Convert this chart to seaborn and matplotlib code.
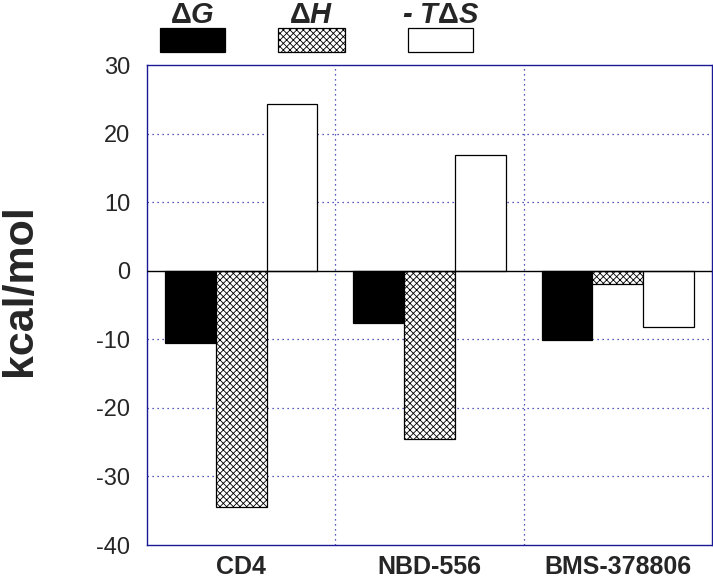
import matplotlib
matplotlib.use("Agg")
import matplotlib.pyplot as plt
import matplotlib.patches as mpatches
import seaborn as sns
import pandas as pd
import numpy as np

categories = ["CD4", "NBD-556", "BMS-378806"]
dG = [-10.5, -7.6, -10.1]
dH = [-34.5, -24.5, -2.0]
mTdS = [24.3, 16.9, -8.2]
series_names = ["dG", "dH", "mTdS"]
legend_labels = [r"$\mathbf{\Delta}\mathit{G}$", r"$\mathbf{\Delta}\mathit{H}$", r"- $\mathit{T}\mathbf{\Delta}\mathit{S}$"]
yticks = [-40, -30, -20, -10, 0, 10, 20, 30]

rows = []
for s, vals in zip(series_names, [dG, dH, mTdS]):
    for c, v in zip(categories, vals):
        rows.append({"cat": c, "series": s, "value": v})
df = pd.DataFrame(rows)

sns.set_style("white")
plt.rcParams['font.family'] = ['Liberation Sans', 'DejaVu Sans']
plt.rcParams['hatch.linewidth'] = 0.6
plt.rcParams['mathtext.fontset'] = 'custom'
plt.rcParams['mathtext.rm'] = 'Liberation Sans:bold'
plt.rcParams['mathtext.it'] = 'Liberation Sans:italic:bold'
plt.rcParams['mathtext.bf'] = 'Liberation Sans:bold'

fig = plt.figure(figsize=(7.13, 5.79), dpi=100)
ax = fig.add_axes([147/713, 1-545/579, (712-147)/713, (545-65)/579])

sns.barplot(data=df, x="cat", y="value", hue="series", order=categories,
            hue_order=series_names, width=0.81, ax=ax, legend=False,
            palette=["black", "white", "white"], edgecolor="black",
            linewidth=0.9, saturation=1)

hatches = ["", "xxxxx", ""]
for cont, h in zip(ax.containers, hatches):
    for p in cont:
        p.set_hatch(h)

ax.set_xlim(-0.5, 2.5)
ax.set_ylim(-40, 30)
ax.set_yticks(yticks)
ax.set_yticklabels([str(t) for t in yticks], fontsize=17)
ax.set_xticks(range(3))
ax.set_xticklabels(categories, fontsize=18, fontweight="bold")
ax.tick_params(axis="x", length=0, pad=7)
ax.tick_params(axis="y", length=0, pad=12)
ax.set_xlabel("")
ax.set_ylabel("kcal/mol", fontsize=31, fontweight="bold")
ax.yaxis.set_label_coords(-0.19, 0.53)

for t in yticks[1:-1]:
    if t != 0:
        ax.axhline(t, color="#2222aa", linestyle=(0, (1, 3)), linewidth=0.9, zorder=0)
for xv in [0.5, 1.5]:
    ax.axvline(xv, color="#2222aa", linestyle=(0, (1, 3)), linewidth=0.9, zorder=0)
ax.axhline(0, color="black", linewidth=1.0, zorder=3)

for sp in ax.spines.values():
    sp.set_color("#1a1a99")
    sp.set_linewidth(1.0)

# legend above the axes
boxes = [(160, 225), (278, 345), (408, 473)]
for (x0, x1), lab, fc, h in zip(boxes, legend_labels, ["black", "white", "white"], hatches):
    r = mpatches.Rectangle((x0/713, 1-52/579), (x1-x0)/713, 24/579, transform=fig.transFigure,
                           facecolor=fc, edgecolor="black", hatch=h, linewidth=0.9)
    fig.add_artist(r)
    fig.text((x0+x1)/2/713, 1-15/579, lab, ha="center", va="center", fontsize=21,
             fontweight="bold", fontstyle="italic")

fig.savefig("out.png", dpi=100)
